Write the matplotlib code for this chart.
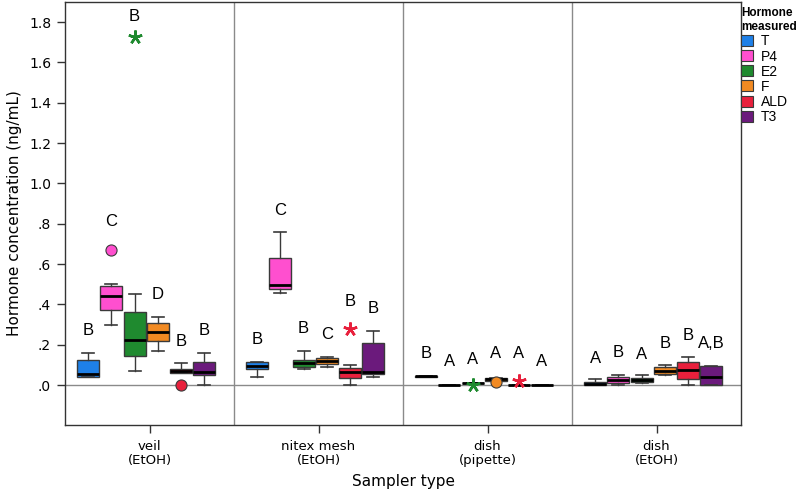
import numpy as np
import matplotlib
matplotlib.use("Agg")
import matplotlib.pyplot as plt
from matplotlib.patches import Patch

# ── Data ──────────────────────────────────────────────────────────────────────
SAMPLERS = ["veil\n(EtOH)", "nitex mesh\n(EtOH)", "dish\n(pipette)", "dish\n(EtOH)"]
HORMONES = ["T", "P4", "E2", "F", "ALD", "T3"]
COLORS = ["#1e80e8", "#ff4fcf", "#1f8a2f", "#f28a22", "#e8203c", "#6b1a7c"]

# per sampler, per hormone: whislo, q1, median, q3, whishi
WHISLO = [[0.040, 0.297, 0.069, 0.169, 0.058, 0.000],
          [0.038, 0.458, 0.078, 0.088, 0.000, 0.038],
          [0.041, 0.000, 0.008, 0.020, 0.000, 0.000],
          [0.000, 0.000, 0.008, 0.050, 0.000, 0.000]]
Q1     = [[0.042, 0.372, 0.144, 0.218, 0.058, 0.050],
          [0.078, 0.479, 0.088, 0.104, 0.033, 0.055],
          [0.041, 0.000, 0.008, 0.022, 0.000, 0.000],
          [0.000, 0.011, 0.013, 0.053, 0.028, 0.000]]
MEDIAN = [[0.053, 0.441, 0.223, 0.261, 0.070, 0.066],
          [0.096, 0.494, 0.109, 0.119, 0.063, 0.063],
          [0.043, 0.000, 0.008, 0.030, 0.000, 0.000],
          [0.005, 0.025, 0.025, 0.071, 0.074, 0.041]]
Q3     = [[0.124, 0.490, 0.363, 0.309, 0.079, 0.113],
          [0.116, 0.628, 0.124, 0.132, 0.083, 0.207],
          [0.045, 0.000, 0.008, 0.033, 0.000, 0.000],
          [0.016, 0.041, 0.036, 0.091, 0.113, 0.096]]
WHISHI = [[0.157, 0.500, 0.450, 0.339, 0.108, 0.157],
          [0.116, 0.757, 0.169, 0.140, 0.099, 0.268],
          [0.045, 0.000, 0.008, 0.033, 0.000, 0.000],
          [0.028, 0.050, 0.050, 0.099, 0.137, 0.096]]

# outliers: (sampler, hormone, value, kind)  o = outlier, * = extreme
OUTLIERS = [(0, 1, 0.669, "o"), (0, 4, 0.000, "o"), (0, 2, 1.725, "*"),
            (1, 4, 0.280, "*"),
            (2, 2, 0.000, "*"), (2, 3, 0.013, "o"), (2, 4, 0.020, "*")]

# significance letters and their heights
LETTERS = [["B", "C", "B", "D", "B", "B"],
           ["B", "C", "B", "C", "B", "B"],
           ["B", "A", "A", "A", "A", "A"],
           ["A", "B", "A", "B", "B", "A,B"]]
LETTER_Y = [[0.27, 0.81, 1.83, 0.45, 0.215, 0.27],
            [0.228, 0.868, 0.281, 0.253, 0.413, 0.38],
            [0.157, 0.116, 0.127, 0.157, 0.157, 0.116],
            [0.132, 0.162, 0.154, 0.207, 0.248, 0.207]]

YTICKS = [0.0, 0.2, 0.4, 0.6, 0.8, 1.0, 1.2, 1.4, 1.6, 1.8]
YTICKLABELS = [".0", ".2", ".4", ".6", ".8", "1.0", "1.2", "1.4", "1.6", "1.8"]

# ── Plot ──────────────────────────────────────────────────────────────────────
plt.rcParams["font.family"] = ["DejaVu Sans"]
EDGE = "#3a3a3a"; GRID = "#8a8a8a"
STEP = 0.137; BOXW = 0.13

fig = plt.figure(figsize=(7.96, 5.0), dpi=100)
ax = fig.add_axes([65/796, 75/500, (741-65)/796, (498-75)/500])

for g in range(len(SAMPLERS)):
    for h in range(len(HORMONES)):
        pos = g + (h - 2.5) * STEP - 0.02
        st = dict(whislo=WHISLO[g][h], q1=Q1[g][h], med=MEDIAN[g][h],
                  q3=Q3[g][h], whishi=WHISHI[g][h], fliers=[])
        ax.bxp([st], positions=[pos], widths=BOXW, patch_artist=True,
               showfliers=False, capwidths=BOXW*0.55,
               boxprops=dict(facecolor=COLORS[h], edgecolor=EDGE, lw=1.0),
               medianprops=dict(color="black", lw=2.0),
               whiskerprops=dict(color=EDGE, lw=1.0),
               capprops=dict(color=EDGE, lw=1.2),
               manage_ticks=False, zorder=3)
        ax.text(pos, LETTER_Y[g][h], LETTERS[g][h], ha="center", va="center",
                fontsize=12, family="Liberation Sans", zorder=4)

for g, h, val, kind in OUTLIERS:
    pos = g + (h - 2.5) * STEP - 0.02
    if kind == "o":
        ax.plot(pos, val, "o", ms=8, mfc=COLORS[h], mec=EDGE, mew=0.8, zorder=5)
    else:
        ax.plot(pos, val, marker=(5, 2, 0), ms=10, color=COLORS[h], mew=1.8,
                ls="none", zorder=5)

ax.axhline(0, color=GRID, lw=1.0, zorder=1)
for xs in [0.5, 1.5, 2.5]:
    ax.axvline(xs, color=GRID, lw=1.0, zorder=1)

ax.set_xlim(-0.5, 3.5)
ax.set_ylim(-0.198, 1.9)
ax.set_xticks(range(len(SAMPLERS)))
ax.set_xticklabels(SAMPLERS, fontsize=9.5, linespacing=1.05)
ax.set_yticks(YTICKS)
ax.set_yticklabels(YTICKLABELS, fontsize=10)
ax.tick_params(direction="out", length=6, color="#333333", width=1.0, pad=4)
ax.tick_params(axis="x", pad=5)
for sp in ax.spines.values():
    sp.set_color("#333333"); sp.set_linewidth(1.0)
ax.set_ylabel("Hormone concentration (ng/mL)", fontsize=11, labelpad=5)
ax.set_xlabel("Sampler type", fontsize=11, labelpad=5)

handles = [Patch(facecolor=c, edgecolor=EDGE, lw=0.8) for c in COLORS]
leg = fig.legend(handles, HORMONES, title="Hormone\nmeasured",
                 loc="upper left", bbox_to_anchor=(741/796, 0.985), frameon=False,
                 borderpad=0, borderaxespad=0,
                 prop=dict(family="Liberation Sans", size=10),
                 title_fontproperties=dict(family="Liberation Sans", size=8.5,
                                           weight="bold"),
                 handlelength=0.85, handleheight=0.85, handletextpad=0.6,
                 labelspacing=0.08, alignment="left")

fig.savefig("out.png", dpi=100)
